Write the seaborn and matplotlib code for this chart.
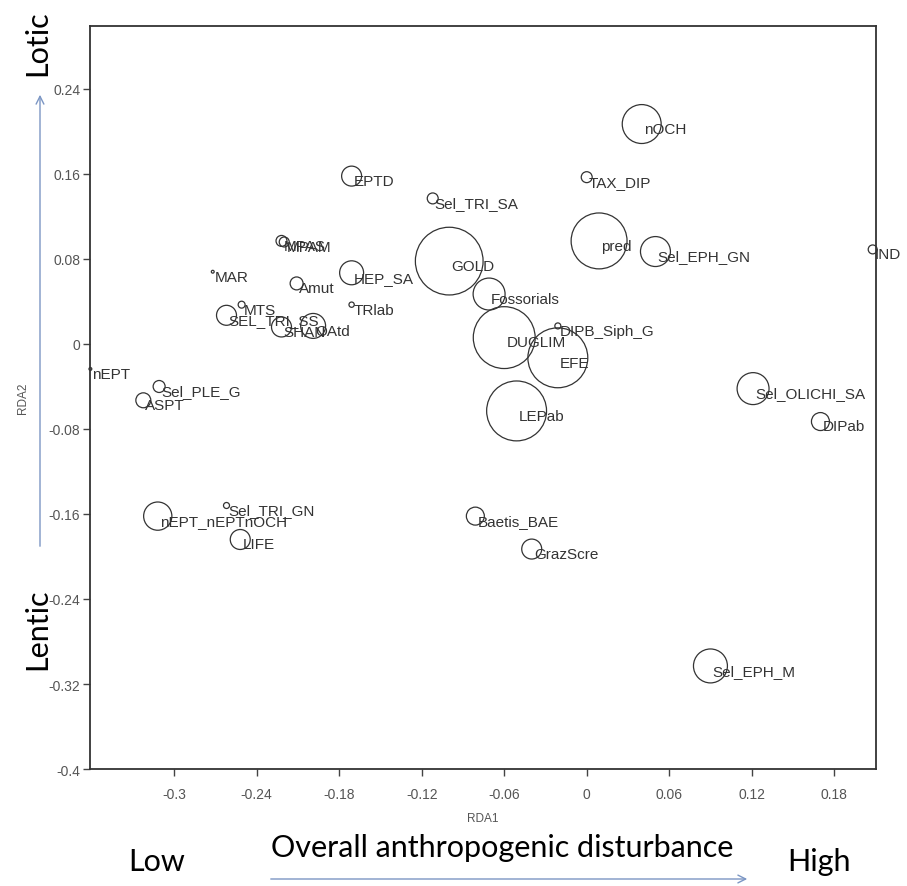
import numpy as np
import pandas as pd
import matplotlib
matplotlib.use("Agg")
import matplotlib.pyplot as plt
import seaborn as sns

# RDA site/metric scores and circle weights
labels = [
    "nOCH", "TAX_DIP", "EPTD", "Sel_TRI_SA", "pred", "Sel_EPH_GN", "IND",
    "GOLD", "MPAS", "MPAM", "HEP_SA", "MAR", "Amut", "Fossorials", "TRlab",
    "MTS", "SEL_TRI_SS", "SHAN", "OAtd", "DUGLIM", "DIPB_Siph_G", "EFE",
    "LEPab", "Sel_OLICHI_SA", "DIPab", "Sel_EPH_M", "Baetis_BAE", "GrazScre",
    "nEPT_nEPTnOCH", "Sel_TRI_GN", "LIFE", "nEPT", "Sel_PLE_G", "ASPT",
]
rda1 = [
    0.040, 0.000, -0.171, -0.112, 0.009, 0.050, 0.208,
    -0.100, -0.222, -0.220, -0.171, -0.272, -0.211, -0.071, -0.171,
    -0.251, -0.262, -0.222, -0.199, -0.060, -0.021, -0.021,
    -0.051, 0.121, 0.170, 0.090, -0.081, -0.040,
    -0.312, -0.262, -0.252, -0.361, -0.311, -0.3225,
]
rda2 = [
    0.207, 0.157, 0.158, 0.137, 0.097, 0.087, 0.089,
    0.078, 0.097, 0.096, 0.067, 0.068, 0.057, 0.047, 0.037,
    0.037, 0.027, 0.016, 0.017, 0.006, 0.017, -0.013,
    -0.063, -0.042, -0.073, -0.303, -0.162, -0.193,
    -0.162, -0.152, -0.184, -0.0235, -0.040, -0.053,
]
weight = [
    3.80, 0.30, 1.00, 0.30, 7.84, 2.25, 0.20,
    11.5, 0.30, 0.25, 1.44, 0.02, 0.42, 2.56, 0.07,
    0.12, 1.00, 1.00, 1.56, 9.60, 0.09, 9.00,
    9.00, 2.56, 0.81, 2.89, 0.81, 1.00,
    2.00, 0.09, 1.00, 0.02, 0.36, 0.56,
]

xticks = [-0.3, -0.24, -0.18, -0.12, -0.06, 0, 0.06, 0.12, 0.18]
xticklabels = ["-0.3", "-0.24", "-0.18", "-0.12", "-0.06", "0", "0.06", "0.12", "0.18"]
yticks = [0.24, 0.16, 0.08, 0, -0.08, -0.16, -0.24, -0.32, -0.4]
yticklabels = ["0.24", "0.16", "0.08", "0", "-0.08", "-0.16", "-0.24", "-0.32", "-0.4"]

df = pd.DataFrame({"label": labels, "RDA1": rda1, "RDA2": rda2, "weight": weight})

sns.set_style("ticks")
plt.rcParams["font.family"] = ["Liberation Sans", "DejaVu Sans"]

fig = plt.figure(figsize=(9.07, 8.87), dpi=100)
ax = fig.add_axes([0.0992, 0.1319, 0.8666, 0.8377])

sns.scatterplot(
    data=df, x="RDA1", y="RDA2", size="weight",
    sizes=(0, 2480), size_norm=(0, 12),
    facecolors="none", edgecolor="#333333", linewidth=0.9,
    legend=False, ax=ax, clip_on=False,
)

for _, row in df.iterrows():
    ax.annotate(row["label"], (row["RDA1"], row["RDA2"]),
                xytext=(1.5, -3.5), textcoords="offset points",
                ha="left", va="center", fontsize=11, color="#333333",
                annotation_clip=False)

ax.set_xlim(-0.3613, 0.2104)
ax.set_ylim(-0.4, 0.2993)
ax.set_xticks(xticks)
ax.set_xticklabels(xticklabels)
ax.set_yticks(yticks)
ax.set_yticklabels(yticklabels)
ax.tick_params(direction="out", length=5, width=1, color="#444444",
               labelsize=10, labelcolor="#555555")
ax.tick_params(axis="x", pad=8)
ax.tick_params(axis="y", pad=2)
for sp in ax.spines.values():
    sp.set_visible(True)
    sp.set_linewidth(1.3)
    sp.set_color("#333333")

ax.set_xlabel("RDA1", fontsize=8.5, color="#555555", labelpad=8)
ax.set_ylabel("RDA2", fontsize=8.5, color="#555555", labelpad=14)

# Gradient annotations around the ordination
big = dict(family=["Lato", "DejaVu Sans"], fontsize=22, color="black")
W, H = 907, 887
fig.text(37 / W, 1 - 43 / H, "Lotic", rotation=90, ha="center", va="center", **big)
fig.text(37 / W, 1 - 629 / H, "Lentic", rotation=90, ha="center", va="center", **big)
fig.text(157 / W, 1 - 862 / H, "Low", ha="center", va="center", **big)
fig.text(819 / W, 1 - 862 / H, "High", ha="center", va="center", **big)
fig.text(502 / W, 1 - 848 / H, "Overall anthropogenic disturbance",
         ha="center", va="center", **big)

arrow_kw = dict(arrowstyle="->", color="#7b96c4", lw=1.0, mutation_scale=14)
fig.add_artist(matplotlib.patches.FancyArrowPatch(
    (40 / W, 1 - 550 / H), (40 / W, 1 - 93 / H),
    transform=fig.transFigure, **arrow_kw))
fig.add_artist(matplotlib.patches.FancyArrowPatch(
    (268 / W, 1 - 880 / H), (750 / W, 1 - 880 / H),
    transform=fig.transFigure, **arrow_kw))

fig.savefig("out.png", dpi=100)
